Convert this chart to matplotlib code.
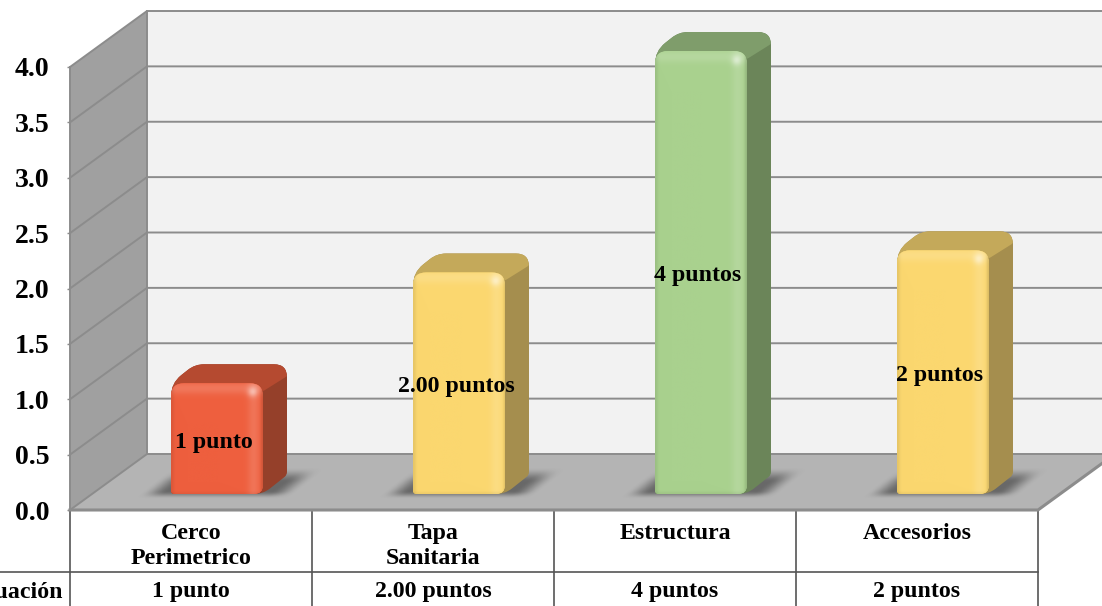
import numpy as np
import matplotlib
matplotlib.use("Agg")
import matplotlib.pyplot as plt
from matplotlib.path import Path
from matplotlib.patches import PathPatch, Polygon
from matplotlib.colors import to_rgb

plt.rcParams["font.family"] = ["Liberation Serif", "DejaVu Serif"]
plt.rcParams["font.weight"] = "bold"

# ---------------------- Data ----------------------
categories = ["Cerco\nPerimetrico", "Tapa\nSanitaria", "Estructura", "Accesorios"]
values = [1.0, 2.0, 4.0, 2.2]
bar_labels = ["1 punto", "2.00 puntos", "4 puntos", "2 puntos"]
table_values = ["1 punto", "2.00 puntos", "4 puntos", "2 puntos"]
row_header = "Evaluación"
y_ticks = [0.0, 0.5, 1.0, 1.5, 2.0, 2.5, 3.0, 3.5, 4.0]
face_colors = ["#EE5F3E", "#FBD76F", "#A9D18E", "#FBD76F"]
side_colors = ["#95402A", "#A58E4E", "#6B8559", "#A58E4E"]
top_colors = ["#B54A30", "#C4A95A", "#7F9D6B", "#C4A95A"]

# ---------------------- Geometry (pixels per data unit) ----------------------
W, H = 1102, 606
UX, UY = 242.0, 110.75
LEFT_PX, FLOOR_PX, TOP_PX = 70, 510, 67
WALL_DX, WALL_DY = 77 / UX, 56 / UY
BAR_W, BAR_OFF = 92 / UX, (147 - 46) / UX
BAR_BASE = 16 / UY
BAR_DX, BAR_DY = 24 / UX, 19 / UY
X0, X1 = -0.5, 3.5

fig = plt.figure(figsize=(W / 100, H / 100), dpi=100, facecolor="white")
ax = fig.add_axes([LEFT_PX / W, 1 - FLOOR_PX / H, (UX * 4) / W, (FLOOR_PX - TOP_PX) / H])
ax.patch.set_visible(False)


def rounded_path(pts, radii):
    # corners rounded in pixel space so they stay circular on screen
    p = np.array(pts, dtype=float) * [UX, UY]
    n = len(p)
    verts, codes = [], []
    for i in range(n):
        a, b, c = p[i - 1], p[i], p[(i + 1) % n]
        r = radii[i]
        d1 = (a - b) / np.linalg.norm(a - b)
        d2 = (c - b) / np.linalg.norm(c - b)
        verts.append(b + d1 * r)
        codes.append(Path.MOVETO if i == 0 else Path.LINETO)
        verts.extend([b, b + d2 * r])
        codes.extend([Path.CURVE3, Path.CURVE3])
    verts.append(verts[0])
    codes.append(Path.CLOSEPOLY)
    return Path(np.array(verts) / [UX, UY], codes)


def add_poly(pts, color, z, edge="none", lw=0):
    patch = Polygon(pts, closed=True, facecolor=color, edgecolor=edge, linewidth=lw,
                    zorder=z, clip_on=False)
    ax.add_patch(patch)
    return patch


def add_shape(pts, radii, color, z):
    patch = PathPatch(rounded_path(pts, radii), facecolor=color, edgecolor="none",
                      zorder=z, clip_on=False)
    ax.add_patch(patch)
    return patch


def face_image(color, clip_patch, extent, z):
    # satin look: dark left rim, light strip at right and along the top
    nx, ny = 120, 400
    u = np.linspace(0, 1, nx)[None, :]
    py = np.linspace(0, (extent[3] - extent[2]) * UY, ny)[:, None]
    from_top = py[-1] - py
    px_right = (1 - u) * (extent[1] - extent[0]) * UX
    base = np.array(to_rgb(color))
    light = np.exp(-((px_right - 9) / 6.0) ** 2) * 0.13 + np.exp(-((from_top - 5) / 6.0) ** 2) * 0.15
    light = light + np.exp(-((px_right - 10) / 5.0) ** 2 - ((from_top - 9) / 5.0) ** 2) * 0.35
    dark = np.exp(-(u / 0.03) ** 2) * 0.08 + np.exp(-(px_right / 2.0) ** 2) * 0.12 + np.exp(-(py / 2.0) ** 2) * 0.05
    img = base[None, None, :] + (1 - base[None, None, :]) * np.clip(light, 0, 1)[:, :, None]
    img = img * (1 - np.clip(dark, 0, 1))[:, :, None]
    im = ax.imshow(np.clip(img, 0, 1), extent=extent, origin="lower", aspect="auto",
                   zorder=z, interpolation="bilinear")
    im.set_clip_box(fig.bbox)
    im.set_clip_path(clip_patch)


def smooth(t):
    t = np.clip(t, 0, 1)
    return t * t * (3 - 2 * t)


def floor_shadow(left, base, z):
    # soft shadow lying on the floor, sheared along the depth direction
    xs = np.linspace(left - 50 / UX, left + BAR_W + 85 / UX, 260)
    ys = np.linspace(base - 10 / UY, base + BAR_DY + 16 / UY, 90)
    gx, gy = np.meshgrid(xs, ys)
    px = (gx - left) * UX - (gy - base) * UY * 1.25
    py = (gy - base) * UY
    a = smooth((px + 32) / 26) * smooth((BAR_W * UX + 32 - px) / 26)
    a = a * smooth((py + 5) / 8) * smooth((BAR_DY * UY + 8 - py) / 15)
    img = np.zeros(gx.shape + (4,))
    img[..., :3] = 0.36
    img[..., 3] = a * 0.85
    im = ax.imshow(img, extent=(xs[0], xs[-1], ys[0], ys[-1]), origin="lower", aspect="auto",
                   zorder=z, interpolation="bilinear")
    im.set_clip_box(fig.bbox)


# ---------------------- Walls and floor ----------------------
line_col = "#8C8C8C"
far = X1 + 0.6
top_val = y_ticks[-1]
add_poly([(X0 + WALL_DX, WALL_DY), (far, WALL_DY), (far, top_val + WALL_DY), (X0 + WALL_DX, top_val + WALL_DY)],
         "#F2F2F2", 1)
add_poly([(X0, 0), (X0 + WALL_DX, WALL_DY), (X0 + WALL_DX, top_val + WALL_DY), (X0, top_val)],
         "#A0A0A0", 1)
add_poly([(X0, 0), (X1, 0), (X1 + WALL_DX, WALL_DY), (X0 + WALL_DX, WALL_DY)], "#B4B4B4", 1.5)

for v in y_ticks:
    ax.plot([X0, X0 + WALL_DX, far], [v, v + WALL_DY, v + WALL_DY], color=line_col, lw=1.4,
            zorder=2, clip_on=False, solid_joinstyle="miter")
ax.plot([X0, X0], [0, top_val], color=line_col, lw=1.4, zorder=2, clip_on=False)
ax.plot([X0 + WALL_DX, X0 + WALL_DX], [WALL_DY, top_val + WALL_DY], color=line_col, lw=1.4, zorder=2, clip_on=False)
ax.plot([X0, X1, X1 + WALL_DX], [0, 0, WALL_DY], color=line_col, lw=2.2, zorder=2, clip_on=False)

# ---------------------- Bars ----------------------
for i, v in enumerate(values):
    left = i - 0.5 + BAR_OFF
    right = left + BAR_W
    base = BAR_BASE
    top = base + v
    floor_shadow(left, base, 3)
    silhouette = [(left, base), (right, base), (right + BAR_DX, base + BAR_DY),
                  (right + BAR_DX, top + BAR_DY), (left + BAR_DX, top + BAR_DY), (left, top)]
    add_shape(silhouette, [3, 9, 3, 13, 9, 13], side_colors[i], 4)
    top_face = [(left, top), (left + BAR_DX, top + BAR_DY), (right + BAR_DX, top + BAR_DY),
                (right + BAR_DX, top + BAR_DY - 12 / UY), (right, top - 8 / UY), (left, top - 8 / UY)]
    add_shape(top_face, [13, 9, 13, 2, 2, 2], top_colors[i], 5)
    front = [(left, base), (left, top), (right, top), (right, base)]
    clip = add_shape(front, [4, 13, 13, 9], face_colors[i], 6)
    face_image(face_colors[i], clip, (left, right, base, top), 7)
    ax.text((left + right) / 2 - 3 / UX, (base + top) / 2 - 3.5 / UY, bar_labels[i], ha="center", va="center",
            fontsize=17.2, color="black", zorder=9, clip_on=False)

# ---------------------- Data table ----------------------
row_y = -(572 - FLOOR_PX) / UY
bottom_y = -(H - FLOOR_PX) / UY
table_col = "#555555"
ax.plot([X0 - LEFT_PX / UX, X1], [row_y, row_y], color=table_col, lw=1.2, clip_on=False, zorder=2)
for k in range(len(categories) + 1):
    ax.plot([X0 + k, X0 + k], [0, bottom_y], color=table_col, lw=1.2, clip_on=False, zorder=1.8)
for i, name in enumerate(categories):
    ax.text(i, -(523 - FLOOR_PX) / UY, name, ha="center", va="top", fontsize=17.2, linespacing=1.27, clip_on=False)
    ax.text(i, -(592 - FLOOR_PX) / UY, table_values[i], ha="center", va="center", fontsize=17.2, clip_on=False)
ax.text(X0 - 7 / UX, -(592 - FLOOR_PX) / UY, row_header, ha="right", va="center", fontsize=17.2, clip_on=False)

# ---------------------- Axes ----------------------
ax.set_xlim(X0, X1)
ax.set_ylim(0, top_val)
ax.set_xticks([])
ax.set_yticks(y_ticks)
ax.set_yticklabels([f"{t:.1f}" for t in y_ticks], fontsize=20, fontweight="bold")
ax.tick_params(axis="y", length=2, width=1, color=line_col, pad=13)
for s in ax.spines.values():
    s.set_visible(False)

fig.savefig("out.png", dpi=100, facecolor="white")
